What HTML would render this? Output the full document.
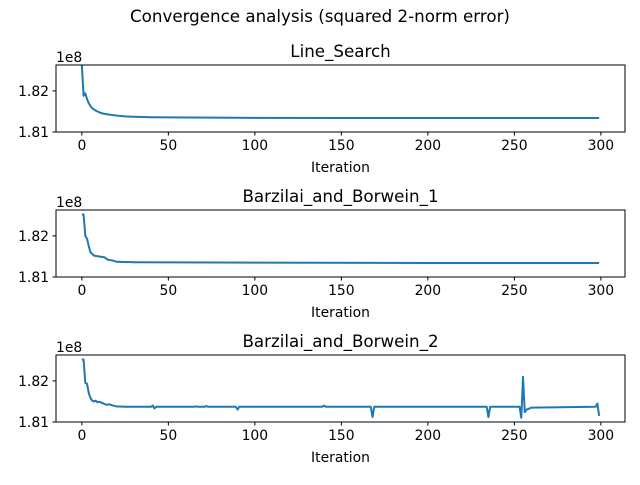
<!DOCTYPE html>
<html><head><meta charset="utf-8"><style>
body{margin:0;background:#fff}
svg text{font-family:"DejaVu Sans","Liberation Sans",sans-serif;fill:#000}
</style></head><body>
<svg id="fig" width="640" height="480" xmlns="http://www.w3.org/2000/svg">
<text x="320" y="22" font-size="16.7" text-anchor="middle">Convergence analysis (squared 2-norm error)</text>
</svg>
<script>
const titles=["Line_Search","Barzilai_and_Borwein_1","Barzilai_and_Borwein_2"];
const xTicks=[0,50,100,150,200,250,300];
const yTicks=[1.81,1.82];
const s1x=[0,1,2,3,4,5,6,8,10,12,15,20,25,30,40,50,75,100,150,200,250,299];
const s1y=[1.8262,1.8188,1.8194,1.8180,1.8170,1.8163,1.8158,1.8152,1.8148,1.8145,1.8143,1.8140,1.8138,1.8137,1.8136,1.81355,1.8135,1.81345,1.8134,1.8134,1.8134,1.8134];
const s2x=[0,1,2,3,4,5,7,10,13,14,15,18,20,30,100,200,299];
const s2y=[1.8252,1.8252,1.8200,1.8193,1.8175,1.8160,1.8152,1.8150,1.8148,1.8145,1.8142,1.8140,1.8137,1.8136,1.8135,1.8134,1.8134];
const s3x=[0,1,2,3,4,5,6,7,8,9,10,12,14,16,18,20,25,40,41,42,43,65,66,67,71,72,73,89,90,91,139,140,141,167,168,169,234,235,236,253,254,255,256,257,260,297,298,299];
const s3y=[1.8252,1.8252,1.8195,1.8193,1.8170,1.8158,1.8152,1.8150,1.8152,1.8148,1.8149,1.8146,1.8142,1.8143,1.8140,1.8138,1.8137,1.8137,1.8140,1.8133,1.8137,1.8137,1.8138,1.8137,1.8137,1.8139,1.8137,1.8137,1.8130,1.8137,1.8137,1.8140,1.8137,1.8137,1.8112,1.8137,1.8137,1.8112,1.8137,1.8137,1.8110,1.8210,1.8124,1.8130,1.8135,1.8137,1.8145,1.8115];
const series=[[s1x,s1y],[s2x,s2y],[s3x,s3y]];
const tops=[65,210,355];
const L=56,R=625,H=67,xmin=-14.95,xmax=313.95,ymin=1.81,ymax=1.8263;
const NS="http://www.w3.org/2000/svg";
const svg=document.getElementById('fig');
function mk(t,a,txt){const e=document.createElementNS(NS,t);for(const k in a)e.setAttribute(k,a[k]);if(txt!==undefined)e.textContent=txt;svg.appendChild(e);return e;}
const X=v=>L+(v-xmin)/(xmax-xmin)*(R-L);
tops.forEach((T,i)=>{
 const B=T+H;
 const Y=v=>B-(v-ymin)/(ymax-ymin)*H;
 const cp=mk('clipPath',{id:'c'+i});
 const r=document.createElementNS(NS,'rect');r.setAttribute('x',L);r.setAttribute('y',T);r.setAttribute('width',R-L);r.setAttribute('height',H);cp.appendChild(r);
 const [xs,ys]=series[i];
 const pts=xs.map((x,j)=>X(x).toFixed(2)+','+Y(ys[j]).toFixed(2)).join(' ');
 const pl=mk('polyline',{points:pts,fill:'none',stroke:'#1f77b4','stroke-width':2,'clip-path':'url(#c'+i+')','stroke-linejoin':'round'});
 
 
 const fr=mk('rect',{x:L,y:T,width:R-L,height:H,fill:'none',stroke:'#000','stroke-width':1});
 
 
 xTicks.forEach(t=>{const x=X(t);mk('line',{x1:x,x2:x,y1:B,y2:B+3.5,stroke:'#000','stroke-width':1});
  const tx=mk('text',{x:x,y:B+18,'font-size':13.9,'text-anchor':'middle'},String(t));
  
  });
 yTicks.forEach(t=>{const y=Y(t);mk('line',{x1:L-3.5,x2:L,y1:y,y2:y,stroke:'#000','stroke-width':1});
  const ty=mk('text',{x:L-7,y:y+5,'font-size':13.9,'text-anchor':'end'},t.toFixed(2));
  
  });
 const off=mk('text',{x:L,y:T-3,'font-size':13.9},'1e8');
 
 
 const tt=mk('text',{x:(L+R)/2,y:T-8,'font-size':16.7,'text-anchor':'middle'},titles[i]);
 
 
 const xl=mk('text',{x:(L+R)/2,y:B+40,'font-size':13.9,'text-anchor':'middle'},'Iteration');
 
 
});
</script>
</body></html>
